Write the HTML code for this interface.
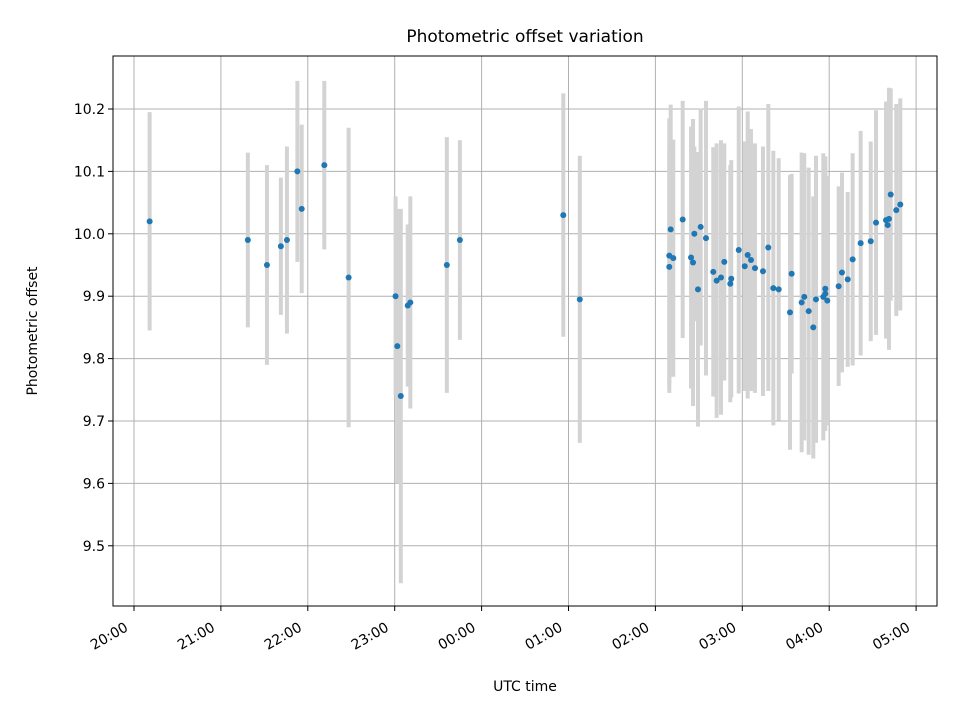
<!DOCTYPE html>
<html><head><meta charset="utf-8"><style>
body{margin:0;background:#fff;}
svg{font-family:"DejaVu Sans","Liberation Sans",sans-serif;}
</style></head><body>
<svg id="chart" width="960" height="720"></svg>
<script>
// hours after 20:00 UTC
const times=[0.18,1.31,1.53,1.69,1.76,1.88,1.93,2.19,2.47,3.01,3.03,3.07,3.15,3.18,3.60,3.75,4.94,5.13,
6.160,6.160,6.176,6.206,6.314,6.410,6.433,6.448,6.490,6.521,6.582,6.666,6.705,6.755,6.793,6.862,6.873,6.959,7.028,7.062,7.100,7.146,7.238,7.299,7.357,7.419,
7.549,7.568,7.683,7.713,7.764,7.817,7.848,7.932,7.955,7.955,7.978,8.109,8.147,8.213,8.270,8.362,8.478,8.539,8.654,8.673,8.688,8.708,8.772,8.818];
const values=[10.02,9.99,9.95,9.98,9.99,10.10,10.04,10.11,9.93,9.90,9.82,9.74,9.885,9.89,9.95,9.99,10.03,9.895,
9.947,9.965,10.007,9.961,10.023,9.962,9.954,10.0,9.911,10.011,9.993,9.939,9.925,9.93,9.955,9.92,9.928,9.974,9.948,9.966,9.958,9.945,9.94,9.978,9.913,9.911,
9.874,9.936,9.890,9.899,9.876,9.850,9.895,9.899,9.912,9.904,9.893,9.916,9.938,9.927,9.959,9.985,9.988,10.018,10.022,10.014,10.024,10.063,10.038,10.047];
const errors=[0.175,0.14,0.16,0.11,0.15,0.145,0.135,0.135,0.24,0.16,0.22,0.30,0.13,0.17,0.205,0.16,0.195,0.23,
0.19,0.22,0.20,0.19,0.19,0.21,0.23,0.14,0.22,0.19,0.22,0.20,0.22,0.22,0.19,0.19,0.19,0.23,0.20,0.23,0.21,0.20,0.20,0.23,0.22,0.21,
0.22,0.16,0.24,0.23,0.23,0.21,0.23,0.23,0.21,0.22,0.20,0.16,0.16,0.14,0.17,0.18,0.16,0.18,0.19,0.17,0.21,0.17,0.17,0.17];
const yTicks=[9.5,9.6,9.7,9.8,9.9,10.0,10.1,10.2];
const xTickLabels=["20:00","21:00","22:00","23:00","00:00","01:00","02:00","03:00","04:00","05:00"];

const L=113,R=937,T=56,B=606;
const X0=134,PXH=86.9;
function xs(h){return X0+h*PXH;}
function ys(v){return 109+(10.2-v)*624;}
const NS="http://www.w3.org/2000/svg";
const svg=document.getElementById('chart');
function mk(tag,attrs,parent){const e=document.createElementNS(NS,tag);for(const k in attrs)e.setAttribute(k,attrs[k]);(parent||svg).appendChild(e);return e;}

const grid=mk('g',{});


xTickLabels.forEach((t,i)=>{
  const x=xs(i);
  const l=mk('line',{x1:x,x2:x,y1:T,y2:B,stroke:'#b0b0b0','stroke-width':1},grid);
  
  
  mk('line',{x1:x,x2:x,y1:B,y2:B+5,stroke:'#000','stroke-width':1});
  const ax=x-5, ay=B+24;
  const tx=mk('text',{x:ax,y:ay,'font-size':14,'text-anchor':'end',transform:`rotate(-30 ${ax} ${ay})`});
  tx.textContent=t;
  
  
});
yTicks.forEach(v=>{
  const y=ys(v);
  const l=mk('line',{x1:L,x2:R,y1:y,y2:y,stroke:'#b0b0b0','stroke-width':1},grid);
  
  
  mk('line',{x1:L-5,x2:L,y1:y,y2:y,stroke:'#000','stroke-width':1});
  const tx=mk('text',{x:L-8,y:y+5,'font-size':14,'text-anchor':'end'});
  tx.textContent=v.toFixed(1);
  
  
});

const eb=mk('g',{});


times.forEach((h,i)=>{
  const l=mk('line',{x1:xs(h),x2:xs(h),y1:ys(values[i]-errors[i]),y2:ys(values[i]+errors[i]),stroke:'#d3d3d3','stroke-width':4},eb);
  
  
});
const pts=mk('g',{});


times.forEach((h,i)=>{
  const c=mk('circle',{cx:xs(h),cy:ys(values[i]),r:3,fill:'#1f77b4'},pts);
  
  
});

const fr=mk('rect',{x:L,y:T,width:R-L,height:B-T,fill:'none',stroke:'#000','stroke-width':1});


const title=mk('text',{x:(L+R)/2,y:42,'font-size':17,'text-anchor':'middle'});
title.textContent='Photometric offset variation';


const xl=mk('text',{x:(L+R)/2,y:691,'font-size':14,'text-anchor':'middle'});
xl.textContent='UTC time';


const yl=mk('text',{x:37,y:331,'font-size':14,'text-anchor':'middle',transform:'rotate(-90 37 331)'});
yl.textContent='Photometric offset';


</script>
</body></html>
